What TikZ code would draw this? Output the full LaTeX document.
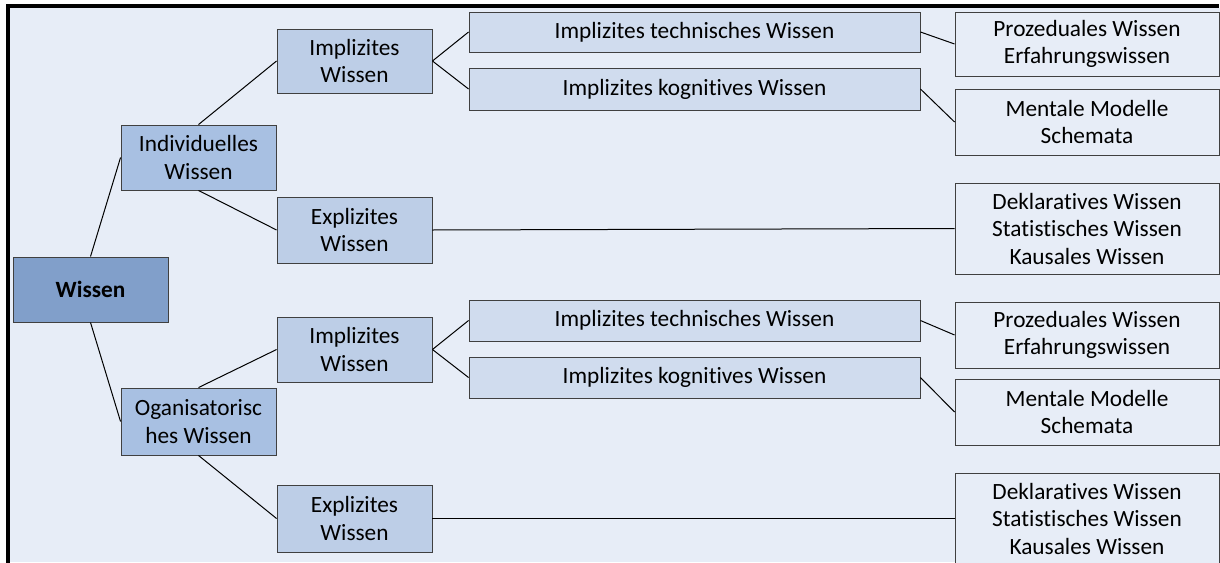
\documentclass[tikz,border=0pt]{standalone}
\usepackage{fontspec}
\setmainfont[Ligatures=NoCommon]{Carlito}
\begin{document}
\begin{tikzpicture}[x=1pt,y=-1pt,
  every node/.style={font=\fontsize{23.3}{27.5}\selectfont, align=center, inner sep=0pt, text=black},
  box/.style={draw=black!75, line width=0.9pt, rectangle},
  lvA/.style={box, fill=rootblue},
  lvB/.style={box, fill=midblue},
  lvC/.style={box, fill=lightblue},
  lvD/.style={box, fill=paleblue},
  lvE/.style={box, fill=bgblue},
  link/.style={draw=black, line width=1pt}]
\definecolor{bgblue}{HTML}{E7EDF7}
\definecolor{rootblue}{HTML}{819FCA}
\definecolor{midblue}{HTML}{A8C0E2}
\definecolor{lightblue}{HTML}{BDCEE7}
\definecolor{paleblue}{HTML}{D0DCEE}
\useasboundingbox (0,0) rectangle (1220,562);
% background panel with heavy frame on top and left
\fill[bgblue] (10,8) rectangle (1220,562);
\draw[line width=4pt, line cap=rect] (8,562) -- (8,6) -- (1217,6);

% root
\node[lvA, minimum width=155, minimum height=65, font=\fontsize{23.3}{27.5}\selectfont\bfseries] (w) at (90.5,289.5) {Wissen};

% second level
\node[lvB, minimum width=155, minimum height=65] (ind) at (198.5,157.5) {Individuelles\\Wissen};
\node[lvB, minimum width=155, minimum height=67] (org) at (198.5,421.5) {Oganisatorisc\\hes Wissen};

% third level
\node[lvC, minimum width=155, minimum height=64] (imp1) at (354.5,61) {Implizites\\Wissen};
\node[lvC, minimum width=155, minimum height=66] (exp1) at (354.5,230) {Explizites\\Wissen};
\node[lvC, minimum width=155, minimum height=65] (imp2) at (354.5,349.5) {Implizites\\Wissen};
\node[lvC, minimum width=155, minimum height=67] (exp2) at (354.5,518.5) {Explizites\\Wissen};

% fourth level
\node[lvD, minimum width=451, minimum height=40] (tec1) at (694.5,32) {Implizites technisches Wissen};
\node[lvD, minimum width=451, minimum height=42] (kog1) at (694.5,89) {Implizites kognitives Wissen};
\node[lvD, minimum width=451, minimum height=41] (tec2) at (694.5,320.5) {Implizites technisches Wissen};
\node[lvD, minimum width=451, minimum height=41] (kog2) at (694.5,377.5) {Implizites kognitives Wissen};

% leaves
\node[lvE, minimum width=264, minimum height=64] (pro1) at (1087,44) {Prozeduales Wissen\\Erfahrungswissen};
\node[lvE, minimum width=264, minimum height=66] (men1) at (1087,122) {Mentale Modelle\\Schemata};
\node[lvE, minimum width=264, minimum height=91] (dek1) at (1087,228.5) {Deklaratives Wissen\\Statistisches Wissen\\Kausales Wissen};
\node[lvE, minimum width=264, minimum height=66] (pro2) at (1087,335) {Prozeduales Wissen\\Erfahrungswissen};
\node[lvE, minimum width=264, minimum height=66] (men2) at (1087,412) {Mentale Modelle\\Schemata};
\node[lvE, minimum width=264, minimum height=91] (dek2) at (1087,518.5) {Deklaratives Wissen\\Statistisches Wissen\\Kausales Wissen};

% connectors
\draw[link] (w.north) -- (ind.west);
\draw[link] (w.south) -- (org.west);
\draw[link] (ind.north) -- (imp1.west);
\draw[link] (ind.south) -- (exp1.west);
\draw[link] (org.north) -- (imp2.west);
\draw[link] (org.south) -- (exp2.west);
\draw[link] (imp1.east) -- (tec1.west);
\draw[link] (imp1.east) -- (kog1.west);
\draw[link] (imp2.east) -- (tec2.west);
\draw[link] (imp2.east) -- (kog2.west);
\draw[link] (tec1.east) -- (pro1.west);
\draw[link] (kog1.east) -- (men1.west);
\draw[link] (tec2.east) -- (pro2.west);
\draw[link] (kog2.east) -- (men2.west);
\draw[link] (exp1.east) -- (dek1.west);
\draw[link] (exp2.east) -- (dek2.west);
\end{tikzpicture}
\end{document}
